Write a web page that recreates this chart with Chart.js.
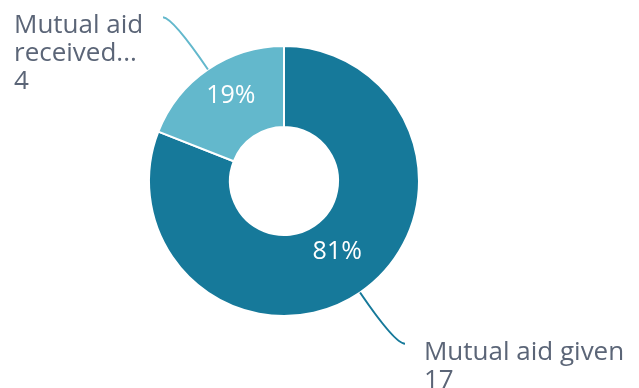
<!DOCTYPE html>
<html>
<head>
<meta charset="utf-8">
<script src="https://cdn.jsdelivr.net/npm/chart.js@4/dist/chart.umd.min.js"></script>
<style>
  html, body { margin: 0; padding: 0; background: #ffffff; }
  #wrap { width: 639px; height: 388px; position: relative; }
</style>
</head>
<body>
<div id="wrap"><canvas id="chart" width="639" height="388"></canvas></div>
<script>
// Aid split: given vs received
const categories = ['Mutual aid given', 'Mutual aid received\u2026'];
const labelLines = [['Mutual aid given'], ['Mutual aid', 'received...']];
const counts = [17, 4];
const colors = ['#16799a', '#63b8cc'];

const FONT = '"Open Sans", "Noto Sans", sans-serif';
const TEXT_GREY = '#5b6577';

const total = counts.reduce((a, b) => a + b, 0);

// Draws the percentage inside each slice and the curved callout with name + count
const calloutPlugin = {
  id: 'callouts',
  afterDatasetsDraw(chart) {
    const ctx = chart.ctx;
    const meta = chart.getDatasetMeta(0);
    meta.data.forEach((arc, i) => {
      const p = arc.getProps(['x', 'y', 'startAngle', 'endAngle', 'innerRadius', 'outerRadius'], true);
      const mid = (p.startAngle + p.endAngle) / 2;
      const dx = Math.cos(mid), dy = Math.sin(mid);

      // percentage text
      const pos = arc.tooltipPosition(true);
      ctx.save();
      ctx.font = '25px ' + FONT;
      ctx.fillStyle = '#ffffff';
      ctx.textAlign = 'center';
      ctx.textBaseline = 'alphabetic';
      ctx.fillText(Math.round(counts[i] / total * 100) + '%', pos.x, pos.y);
      ctx.restore();

      // leader line
      const sx = p.x + dx * p.outerRadius;
      const sy = p.y + dy * p.outerRadius;
      const cx = sx + dx * 62;
      const cy = sy + dy * 62;
      const right = dx >= 0;
      const ex = cx + (right ? 10 : -10);
      const ey = cy + (right ? 0 : -1);
      ctx.save();
      ctx.strokeStyle = colors[i];
      ctx.lineWidth = 2;
      ctx.beginPath();
      ctx.moveTo(sx, sy);
      ctx.quadraticCurveTo(cx, cy, ex, ey);
      ctx.stroke();
      ctx.restore();

      // label text
      const lines = labelLines[i].concat([String(counts[i])]);
      ctx.save();
      ctx.font = '26px ' + FONT;
      ctx.fillStyle = TEXT_GREY;
      ctx.textAlign = 'left';
      ctx.textBaseline = 'alphabetic';
      if (right) {
        const tx = ex + 19;
        const ty = ey + 16;
        lines.forEach((t, k) => ctx.fillText(t, tx, ty + k * 28));
      } else {
        const tx = 14;
        const ty = ey + 16;
        lines.forEach((t, k) => ctx.fillText(t, tx, ty + k * 28));
      }
      ctx.restore();
    });
  }
};

new Chart(document.getElementById('chart'), {
  type: 'doughnut',
  data: {
    labels: categories,
    datasets: [{
      data: counts,
      backgroundColor: colors,
      borderColor: '#ffffff',
      borderWidth: 2,
      hoverOffset: 0
    }]
  },
  options: {
    responsive: false,
    animation: false,
    cutout: '40%',
    layout: { padding: { top: 45, bottom: 71, left: 148, right: 219 } },
    plugins: {
      legend: { display: false },
      tooltip: { enabled: false }
    }
  },
  plugins: [calloutPlugin]
});
</script>
</body>
</html>
